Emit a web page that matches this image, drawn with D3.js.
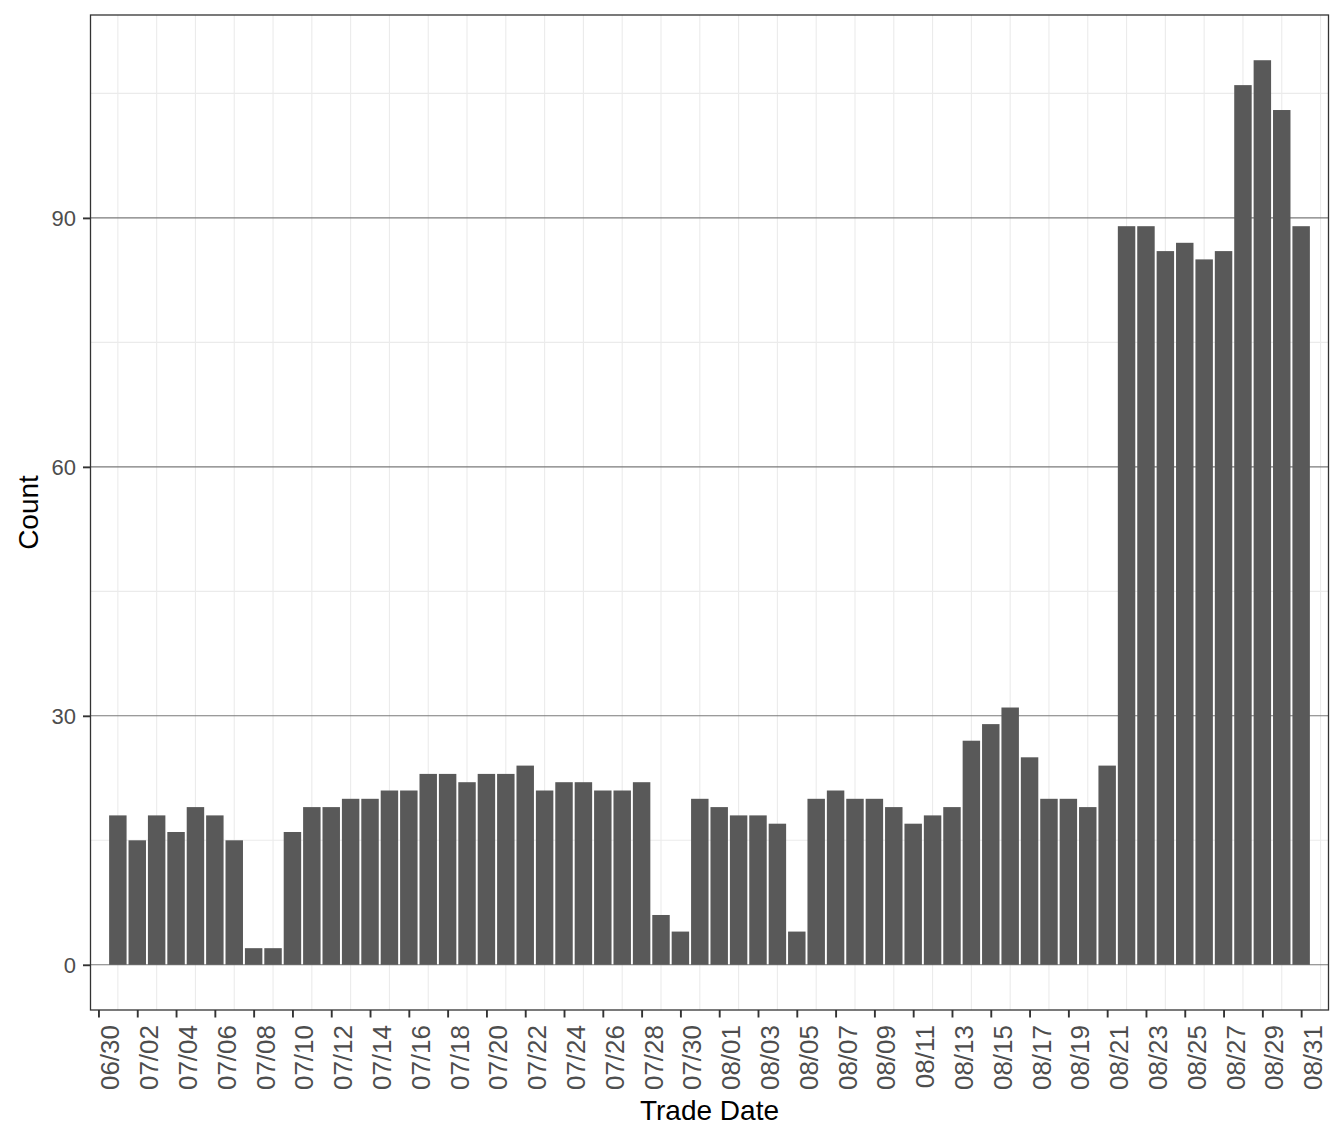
<!DOCTYPE html>
<html>
<head>
<meta charset="utf-8">
<script src="https://cdn.jsdelivr.net/npm/d3@7"></script>
<style>
  html, body { margin: 0; padding: 0; background: #fff; }
  svg { display: block; font-family: "Liberation Sans", Arial, Helvetica, sans-serif; }
</style>
</head>
<body>
<svg id="chart" width="1344" height="1142"></svg>
<script>
// ---- data ----
const tradeDates = [
  "07/01","07/02","07/03","07/04","07/05","07/06","07/07","07/08","07/09","07/10",
  "07/11","07/12","07/13","07/14","07/15","07/16","07/17","07/18","07/19","07/20",
  "07/21","07/22","07/23","07/24","07/25","07/26","07/27","07/28","07/29","07/30",
  "07/31","08/01","08/02","08/03","08/04","08/05","08/06","08/07","08/08","08/09",
  "08/10","08/11","08/12","08/13","08/14","08/15","08/16","08/17","08/18","08/19",
  "08/20","08/21","08/22","08/23","08/24","08/25","08/26","08/27","08/28","08/29",
  "08/30","08/31"
];
const counts = [
  18,15,18,16,19,18,15,2,2,16,
  19,19,20,20,21,21,23,23,22,23,
  23,24,21,22,22,21,21,22,6,4,
  20,19,18,18,17,4,20,21,20,20,
  19,17,18,19,27,29,31,25,20,20,
  19,24,89,89,86,87,85,86,106,109,
  103,89
];
const xTickLabels = [
  "06/30","07/02","07/04","07/06","07/08","07/10","07/12","07/14","07/16","07/18",
  "07/20","07/22","07/24","07/26","07/28","07/30","08/01","08/03","08/05","08/07",
  "08/09","08/11","08/13","08/15","08/17","08/19","08/21","08/23","08/25","08/27",
  "08/29","08/31"
];
const yTicks = [0, 30, 60, 90];
const yMinorTicks = [15, 45, 75, 105];
const xTitle = "Trade Date";
const yTitle = "Count";

// ---- helpers ----
const YEAR = 2020;
const DAY = 86400000;
const parseMD = s => { const [m, d] = s.split("/").map(Number); return new Date(Date.UTC(YEAR, m - 1, d)); };

const data = tradeDates.map((d, i) => ({ date: parseMD(d), value: counts[i] }));
const tickDates = xTickLabels.map(parseMD);

// ---- layout ----
const svg = d3.select("#chart");
const L = 90.5, R = 1328.5, T = 15, B = 1010;

const minD = d3.min(data, d => d.date), maxD = d3.max(data, d => d.date);
const pad = 1.41 * DAY;
const x = d3.scaleUtc().domain([new Date(+minD - pad), new Date(+maxD + pad)]).range([L, R]);
const yMax = d3.max(counts);
const yExp = yMax * 0.05;
const y = d3.scaleLinear().domain([-yExp, yMax + yExp]).range([B, T]);

const barW = x(new Date(+minD + 0.9 * DAY)) - x(minD);

// panel background
svg.append("rect").attr("x", L).attr("y", T).attr("width", R - L).attr("height", B - T).attr("fill", "#fff");

const clip = svg.append("clipPath").attr("id", "pclip").append("rect")
  .attr("x", L).attr("y", T).attr("width", R - L).attr("height", B - T);

const grid = svg.append("g").attr("clip-path", "url(#pclip)");

// minor vertical grid: midpoints between major ticks, extended one step each side
const step = +tickDates[1] - +tickDates[0];
const minorX = [];
for (let i = -1; i < tickDates.length; i++) {
  minorX.push(new Date(+tickDates[0] + i * step + step / 2));
}
grid.selectAll("line.vminor").data(minorX).join("line")
  .attr("x1", d => x(d)).attr("x2", d => x(d))
  .attr("y1", T).attr("y2", B)
  .attr("stroke", "#EBEBEB").attr("stroke-width", 1.1);

// minor horizontal grid
grid.selectAll("line.hminor").data(yMinorTicks).join("line")
  .attr("x1", L).attr("x2", R)
  .attr("y1", d => y(d)).attr("y2", d => y(d))
  .attr("stroke", "#EBEBEB").attr("stroke-width", 1.1);

// major horizontal grid
grid.selectAll("line.hmajor").data(yTicks).join("line")
  .attr("x1", L).attr("x2", R)
  .attr("y1", d => y(d)).attr("y2", d => y(d))
  .attr("stroke", "#7A7A7A").attr("stroke-width", 1.1);

// bars
svg.append("g").attr("clip-path", "url(#pclip)")
  .selectAll("rect").data(data).join("rect")
  .attr("x", d => x(d.date) - barW / 2)
  .attr("width", barW)
  .attr("y", d => y(d.value))
  .attr("height", d => y(0) - y(d.value))
  .attr("fill", "#595959");

// panel border
svg.append("rect").attr("x", L).attr("y", T).attr("width", R - L).attr("height", B - T)
  .attr("fill", "none").attr("stroke", "#333333").attr("stroke-width", 1.3);

// x axis
const xAxis = d3.axisBottom(x).tickValues(tickDates).tickFormat(d3.utcFormat("%m/%d"))
  .tickSizeInner(7.5).tickSizeOuter(0);
const gx = svg.append("g").attr("transform", `translate(0,${B})`).call(xAxis);
gx.select(".domain").remove();
gx.selectAll(".tick line").attr("stroke", "#333333").attr("stroke-width", 1.9);
gx.selectAll(".tick text")
  .attr("x", 0).attr("y", 0).attr("dy", null)
  .attr("text-anchor", "end")
  .attr("transform", "translate(20.5,15) rotate(-90)")
  .attr("fill", "#4D4D4D")
  .style("font-size", "26px")
  .style("font-family", "'Liberation Sans', Arial, sans-serif");

// y axis
const yAxis = d3.axisLeft(y).tickValues(yTicks).tickSizeInner(7.5).tickSizeOuter(0).tickPadding(7);
const gy = svg.append("g").attr("transform", `translate(${L},0)`).call(yAxis);
gy.select(".domain").remove();
gy.selectAll(".tick line").attr("stroke", "#333333").attr("stroke-width", 1.9);
gy.selectAll(".tick text")
  .attr("fill", "#4D4D4D")
  .attr("dy", "0.35em")
  .style("font-size", "22px")
  .style("font-family", "'Liberation Sans', Arial, sans-serif");

// titles
svg.append("text")
  .attr("x", (L + R) / 2).attr("y", 1120)
  .attr("text-anchor", "middle").attr("fill", "#000")
  .style("font-size", "28px")
  .text(xTitle);

svg.append("text")
  .attr("transform", `translate(38,${(T + B) / 2}) rotate(-90)`)
  .attr("text-anchor", "middle").attr("fill", "#000")
  .style("font-size", "28px")
  .text(yTitle);
</script>
</body>
</html>
